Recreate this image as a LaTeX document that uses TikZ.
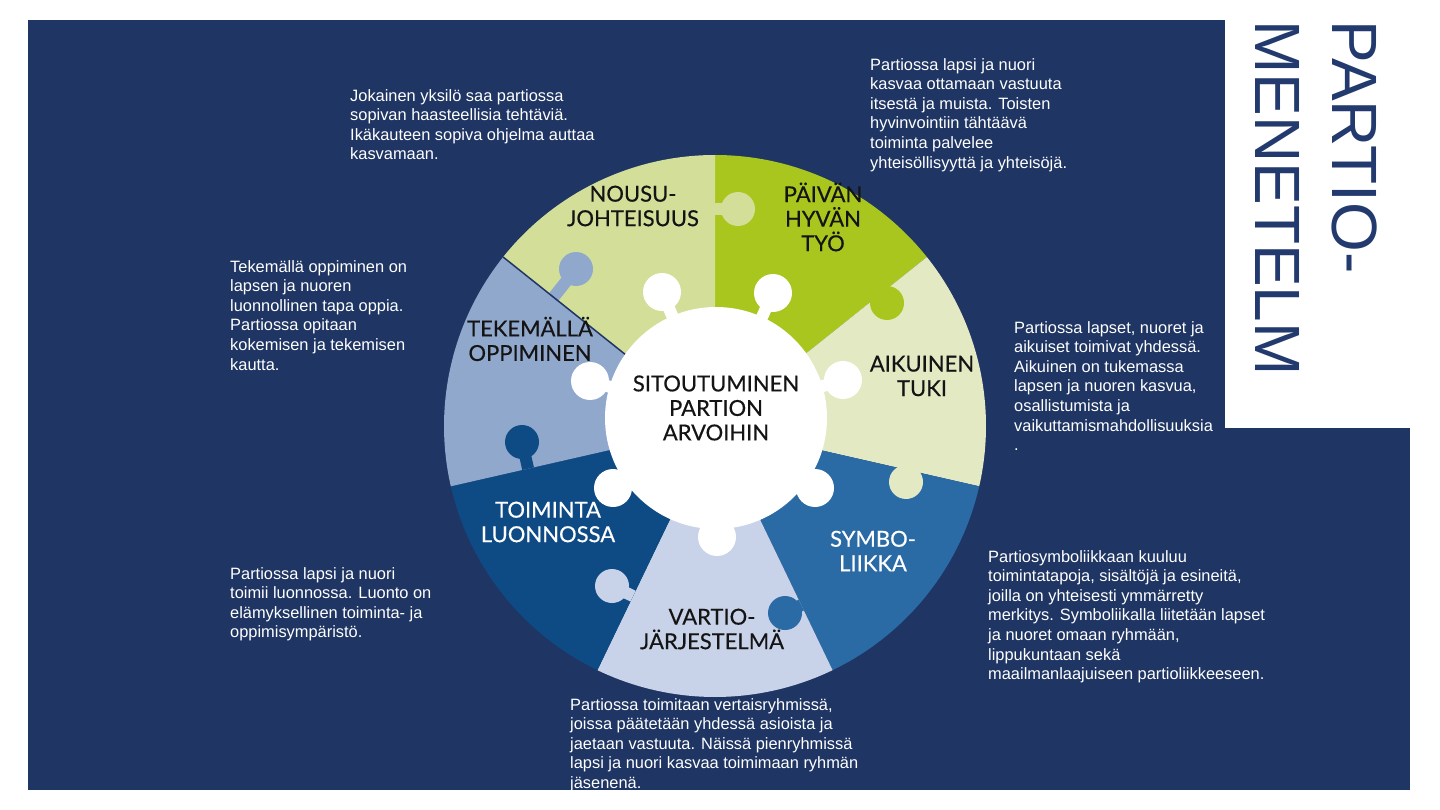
\documentclass[tikz,border=0pt]{standalone}
\usepackage{fontspec}
\setmainfont{Liberation Sans}
\newfontfamily\gillfont[FakeBold=0.4]{Lato}
\usetikzlibrary{calc}

\definecolor{tausta}{RGB}{31,53,99}
\definecolor{otsikko}{RGB}{35,58,110}
\definecolor{tumma}{RGB}{20,20,20}
\definecolor{cNousu}{RGB}{211,222,152}
\definecolor{cPaivan}{RGB}{169,198,31}
\definecolor{cAikuinen}{RGB}{227,234,195}
\definecolor{cSymbo}{RGB}{42,106,165}
\definecolor{cVartio}{RGB}{200,210,232}
\definecolor{cToiminta}{RGB}{14,74,132}
\definecolor{cTekemalla}{RGB}{145,168,205}

\begin{document}
\begin{tikzpicture}[x=1pt,y=-1pt,
    kuvaus/.style={text=white, align=left, anchor=north west, inner sep=0pt,
        font=\fontsize{16.4}{19.6}\selectfont},
    osa/.style={align=center, inner sep=0pt, text=tumma,
        font=\gillfont\fontsize{22}{24.5}\selectfont},
    otsikkoteksti/.style={rotate=-90, anchor=west, inner sep=0pt, text=otsikko,
        font=\fontsize{64}{64}\selectfont}]
    \useasboundingbox (0,0) rectangle (1440,810);

    % Tausta
    \fill[white] (0,0) rectangle (1440,810);
    \fill[tausta] (28,20) rectangle (1410,790);
    \fill[white] (1225,0) rectangle (1440,428);

    % Kiekon sektorit
    \coordinate (keski) at (715,426);
    \foreach \c [count=\i from 0] in {cPaivan,cAikuinen,cSymbo,cVartio,cToiminta,cTekemalla,cNousu}{
        \coordinate (raja\i) at ($(keski)+({-90+\i*360/7}:271)$);
        \fill[\c] (keski) -- (raja\i) arc[start angle={-90+\i*360/7}, delta angle={360/7}, radius=271] -- cycle;
    }

    % Palapelin nupit sektorien rajoilla
    \foreach \kx/\ky/\p/\c in {738/209/0/cNousu, 887/303/1/cPaivan, 906/482/2/cAikuinen,
        785/613/3/cSymbo, 612/586/4/cVartio, 522/442/5/cToiminta, 576/269/6/cTekemalla}{
        \draw[\c, line width=12] ($(keski)!(\kx,\ky)!(raja\p)$) -- (\kx,\ky);
        \fill[\c] (\kx,\ky) circle[radius=17];
    }
    \draw[tausta, line width=1.5] (keski) -- (raja6);

    % Keskiympyra nuppeineen
    \coordinate (sydan) at (716,418);
    \fill[white] (sydan) circle[radius=111];
    \foreach \kx/\ky in {662/292, 773/293, 843/380, 815/488, 717/537, 613/488, 590/381}{
        \draw[white, line width=12] (sydan) -- (\kx,\ky);
        \fill[white] (\kx,\ky) circle[radius=19];
    }

    % Sektorien nimet
    \node[osa] (nousu) at (633,206) {NOUSU-\\JOHTEISUUS};
    \node[osa] (paivan) at (823,217) {PÄIVÄN\\HYVÄN\\TYÖ};
    \node[osa] (aikuinen) at (922,376) {AIKUINEN\\TUKI};
    \node[osa, text=white] (symbo) at (873,551) {SYMBO-\\LIIKKA};
    \node[osa] (vartio) at (712,629) {VARTIO-\\JÄRJESTELMÄ};
    \node[osa, text=white] (toiminta) at (548,522) {TOIMINTA\\LUONNOSSA};
    \node[osa] (tekemalla) at (530,339) {TEKEMÄLLÄ\\OPPIMINEN};
    \node[osa] (sitoutuminen) at (716,408) {SITOUTUMINEN\\PARTION\\ARVOIHIN};

    % Selitystekstit
    \node[kuvaus] (tJokainen) at (350,89) {Jokainen yksilö saa partiossa\\sopivan  haasteellisia tehtäviä.\\Ikäkauteen  sopiva ohjelma auttaa\\kasvamaan.};
    \node[kuvaus] (tPaivan) at (870,58) {Partiossa lapsi ja nuori\\kasvaa  ottamaan vastuuta\\itsestä ja  muista. Toisten\\hyvinvointiin  tähtäävä\\toiminta palvelee\\yhteisöllisyyttä ja yhteisöjä.};
    \node[kuvaus] (tTekemalla) at (230,260) {Tekemällä oppiminen on\\lapsen ja nuoren\\luonnollinen  tapa oppia.\\Partiossa opitaan\\kokemisen ja tekemisen\\kautta.};
    \node[kuvaus] (tAikuinen) at (1014,321) {Partiossa lapset, nuoret ja\\aikuiset toimivat yhdessä.\\Aikuinen on tukemassa\\lapsen ja nuoren kasvua,\\osallistumista ja\\vaikuttamismahdollisuuksia\\.};
    \node[kuvaus] (tToiminta) at (230,567) {Partiossa lapsi ja nuori\\toimii  luonnossa. Luonto on\\elämyksellinen toiminta- ja\\oppimisympäristö.};
    \node[kuvaus] (tSymbo) at (988,550) {Partiosymboliikkaan kuuluu\\toimintatapoja, sisältöjä ja esineitä,\\joilla on yhteisesti ymmärretty\\merkitys.  Symboliikalla liitetään lapset\\ja nuoret  omaan ryhmään,\\lippukuntaan sekä\\maailmanlaajuiseen partioliikkeeseen.};
    \node[kuvaus] (tVartio) at (570,698) {Partiossa toimitaan vertaisryhmissä,\\joissa  päätetään yhdessä asioista ja\\jaetaan  vastuuta. Näissä pienryhmissä\\lapsi ja nuori  kasvaa toimimaan ryhmän\\jäsenenä.};

    % Otsikko
    \node[otsikkoteksti] (partio) at (1355,20) {PARTIO-};
    \node[otsikkoteksti] (menetelm) at (1277,20) {MENETELM};
\end{tikzpicture}
\end{document}
